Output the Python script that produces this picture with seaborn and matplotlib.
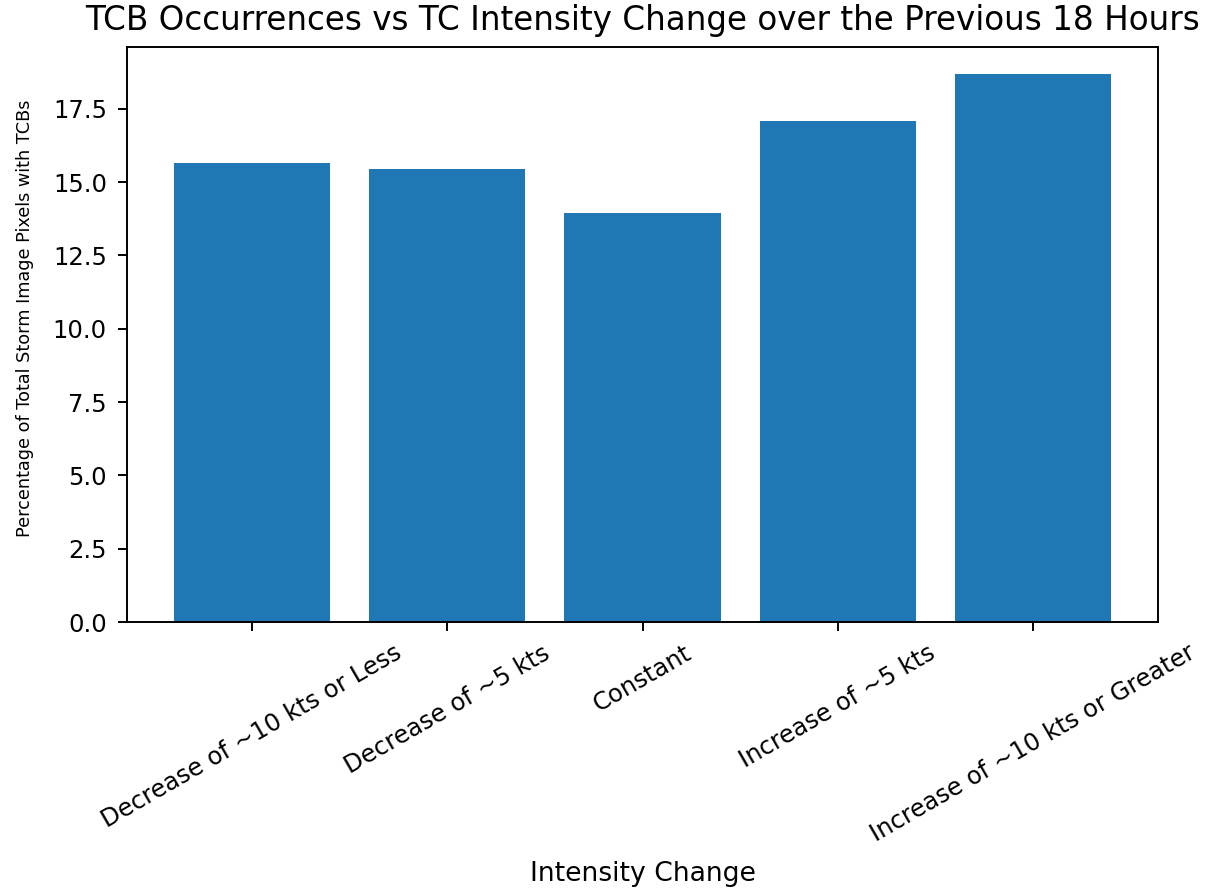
import matplotlib
matplotlib.use("Agg")
import matplotlib.pyplot as plt
import seaborn as sns
import pandas as pd

# Intensity-change categories and TCB pixel percentages
categories = [
    "Decrease of ~10 kts or Less",
    "Decrease of ~5 kts",
    "Constant",
    "Increase of ~5 kts",
    "Increase of ~10 kts or Greater",
]
percentages = [15.65, 15.46, 13.94, 17.08, 18.67]
yticks = [0, 2.5, 5, 7.5, 10, 12.5, 15, 17.5]

df = pd.DataFrame({"Intensity Change": categories, "Percentage": percentages})

fig = plt.figure(figsize=(12.06, 8.90), dpi=100)
ax = fig.add_axes([127 / 1206, 1 - 622 / 890, (1158 - 127) / 1206, (622 - 47) / 890])

sns.barplot(
    data=df, x="Intensity Change", y="Percentage", order=categories,
    color="#1f77b4", saturation=1, width=0.8, linewidth=0, ax=ax,
)

ax.set_xlim(-0.64, 4.64)
ax.set_ylim(0, max(percentages) * 1.05)
ax.set_yticks(yticks)
ax.set_yticklabels([f"{v:.1f}" for v in yticks])
for side in ax.spines.values():
    side.set_linewidth(1.4)
ax.tick_params(axis="both", labelsize=17.5, length=6.5, width=1.4)
ax.tick_params(axis="y", pad=8)
ax.tick_params(axis="x", pad=7)
plt.setp(ax.get_xticklabels(), rotation=30, ha="center")

ax.set_title("TCB Occurrences vs TC Intensity Change over the Previous 18 Hours",
             fontsize=23.5, pad=12)
ax.set_xlabel("Intensity Change", fontsize=19.2, labelpad=10)
ax.set_ylabel("Percentage of Total Storm Image Pixels with TCBs", fontsize=12.7)
ax.yaxis.set_label_coords(-0.090, 0.529)

fig.savefig("out.png", dpi=100)
